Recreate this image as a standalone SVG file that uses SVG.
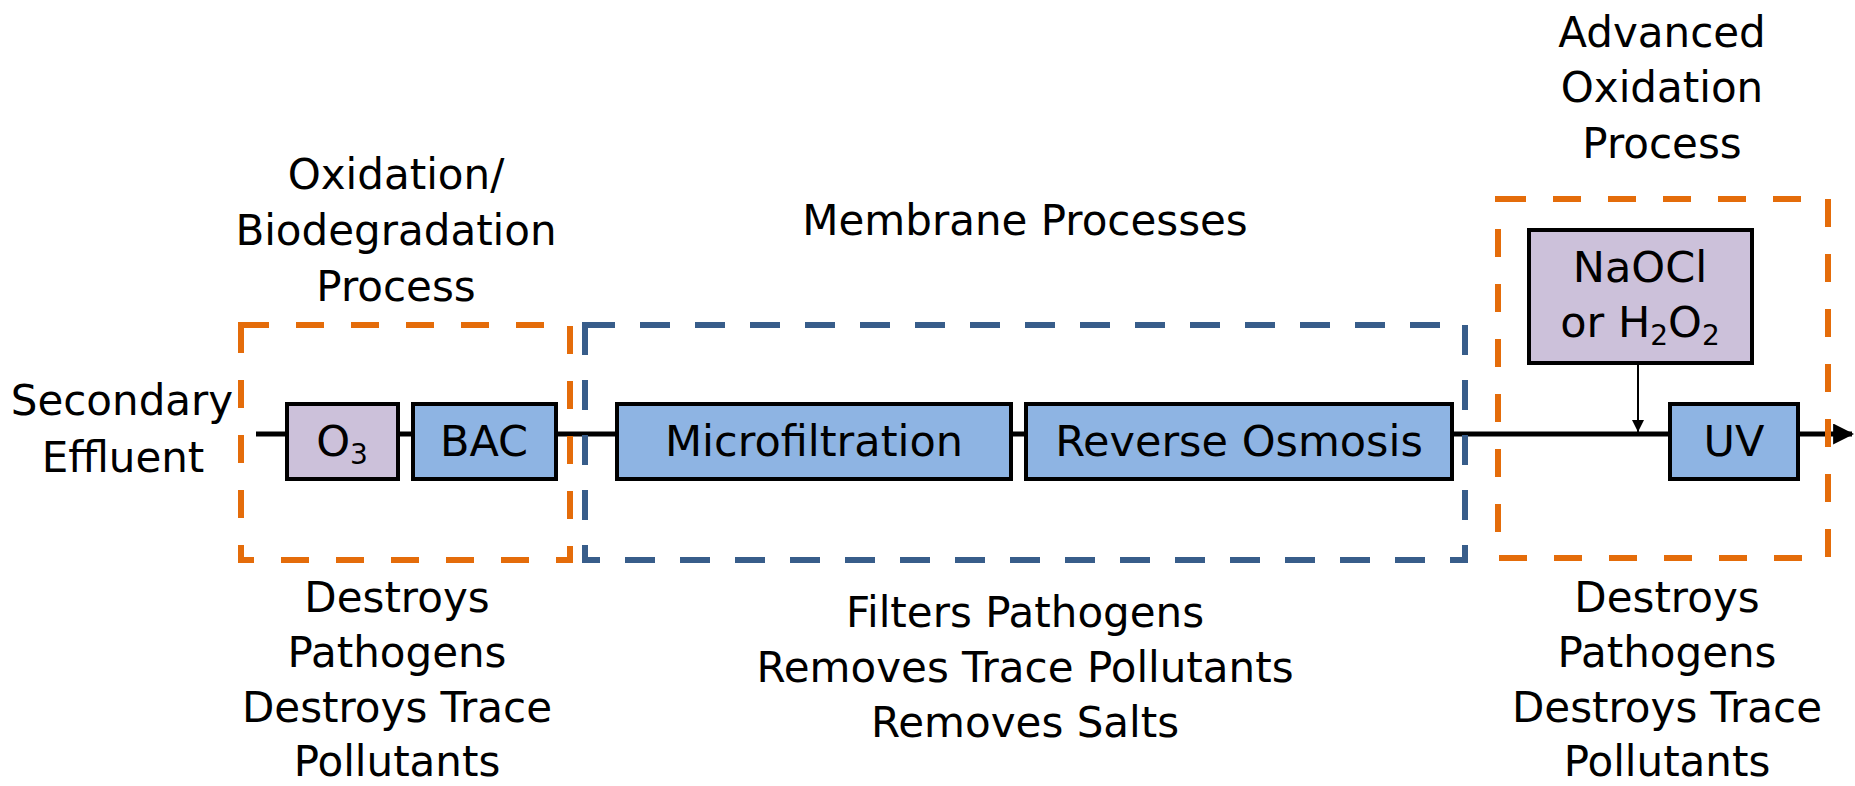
<svg xmlns="http://www.w3.org/2000/svg" width="1855" height="786" viewBox="0 0 1855 786">
<defs>
<style>
text{font-family:"DejaVu Sans",sans-serif;fill:#000;text-anchor:middle}
.lbl{font-size:42px}
.box{font-size:43px}
.sub{font-size:28px}
.blk{stroke:#000;stroke-width:4}
.lav{fill:#CCC1DA}
.blu{fill:#8EB4E3}
.og{fill:none;stroke:#E46C0A;stroke-width:6;stroke-dasharray:28 27}
.bg{fill:none;stroke:#385D8A;stroke-width:6;stroke-dasharray:30 25}
</style>
<marker id="ah" viewBox="0 0 10 10" refX="9" refY="5" markerWidth="4.2" markerHeight="4.2" orient="auto" markerUnits="strokeWidth">
<path d="M0,0 L10,5 L0,10 z" fill="#000"/>
</marker>
<marker id="ahs" viewBox="0 0 10 10" refX="10" refY="5" markerWidth="6" markerHeight="6" orient="auto" markerUnits="strokeWidth">
<path d="M0,0 L10,5 L0,10 z" fill="#000"/>
</marker>
</defs>
<rect width="1855" height="786" fill="#fff"/>

<g id="connectors">
<line x1="256" y1="434" x2="1852" y2="434" stroke="#000" stroke-width="5" marker-end="url(#ah)"/>
<line x1="1638" y1="363" x2="1638" y2="432" stroke="#000" stroke-width="2" marker-end="url(#ahs)"/>
</g>

<g id="group-oxidation">
<rect class="og" x="241" y="325" width="329" height="235"/>
<text class="lbl" x="396" y="189">Oxidation/</text>
<text class="lbl" x="396" y="245">Biodegradation</text>
<text class="lbl" x="396" y="301">Process</text>
<text class="lbl" x="397" y="612">Destroys</text>
<text class="lbl" x="397" y="667">Pathogens</text>
<text class="lbl" x="397" y="722">Destroys Trace</text>
<text class="lbl" x="397" y="776">Pollutants</text>
</g>

<g id="group-membrane">
<rect class="bg" x="585" y="325" width="880" height="235"/>
<text class="lbl" x="1025" y="235">Membrane Processes</text>
<text class="lbl" x="1025" y="627">Filters Pathogens</text>
<text class="lbl" x="1025" y="682">Removes Trace Pollutants</text>
<text class="lbl" x="1025" y="737">Removes Salts</text>
</g>

<g id="group-aop">
<rect class="og" x="1498" y="199" width="330" height="359"/>
<text class="lbl" x="1662" y="47">Advanced</text>
<text class="lbl" x="1662" y="102">Oxidation</text>
<text class="lbl" x="1662" y="158">Process</text>
<text class="lbl" x="1667" y="612">Destroys</text>
<text class="lbl" x="1667" y="667">Pathogens</text>
<text class="lbl" x="1667" y="722">Destroys Trace</text>
<text class="lbl" x="1667" y="776">Pollutants</text>
</g>

<g id="secondary-effluent">
<text class="lbl" x="122" y="415">Secondary</text>
<text class="lbl" x="123" y="472">Effluent</text>
</g>

<g id="node-o3">
<rect class="blk lav" x="287" y="404" width="111" height="75"/>
<text class="box" x="342" y="456">O<tspan class="sub" dy="8">3</tspan></text>
</g>

<g id="node-bac">
<rect class="blk blu" x="413" y="404" width="143" height="75"/>
<text class="box" x="484" y="456">BAC</text>
</g>

<g id="node-microfiltration">
<rect class="blk blu" x="617" y="404" width="394" height="75"/>
<text class="box" x="814" y="456">Microfiltration</text>
</g>

<g id="node-ro">
<rect class="blk blu" x="1026" y="404" width="426" height="75"/>
<text class="box" x="1239" y="456">Reverse Osmosis</text>
</g>

<g id="node-oxidant">
<rect class="blk lav" x="1529" y="230" width="223" height="133"/>
<text class="box" x="1640" y="282">NaOCl</text>
<text class="box" x="1640" y="337">or H<tspan class="sub" dy="8">2</tspan><tspan dy="-8">O</tspan><tspan class="sub" dy="8">2</tspan></text>
</g>

<g id="node-uv">
<rect class="blk blu" x="1670" y="404" width="128" height="75"/>
<text class="box" x="1734" y="456">UV</text>
</g>
</svg>
